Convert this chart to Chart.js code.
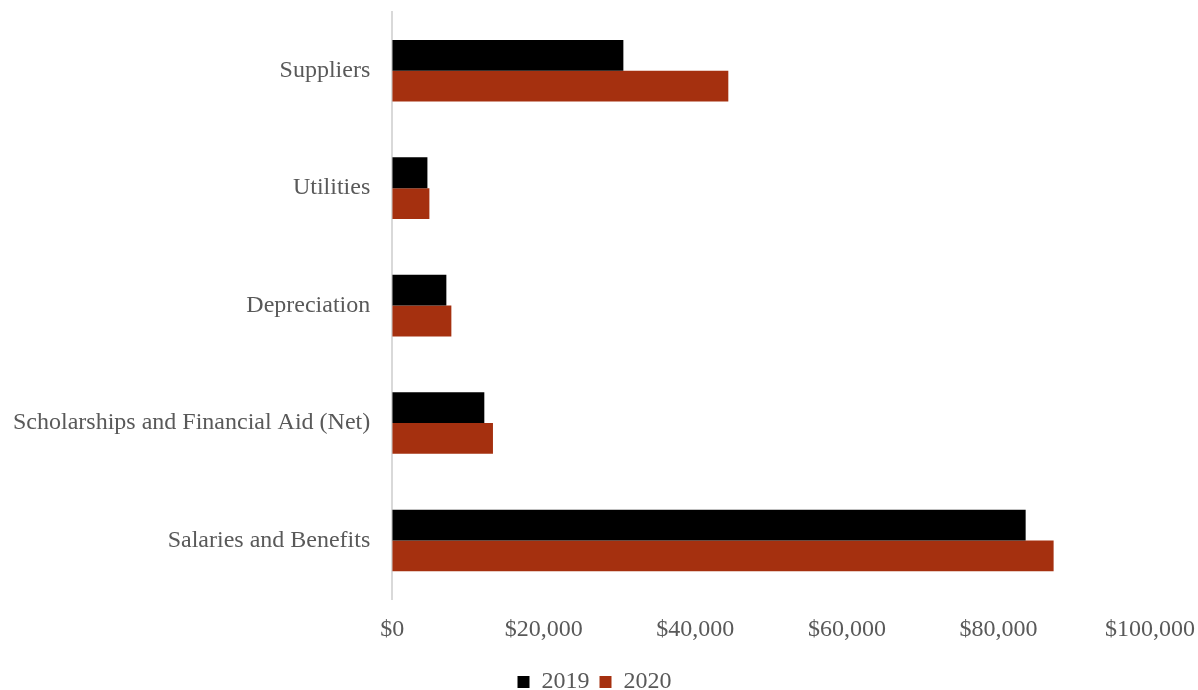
<!DOCTYPE html>
<html>
<head>
<meta charset="utf-8">
<script src="https://cdn.jsdelivr.net/npm/chart.js@4/dist/chart.umd.min.js"></script>
<style>
  body { margin: 0; background: #fff; }
  #wrap { width: 1198px; height: 690px; }
</style>
</head>
<body>
<div id="wrap"><canvas id="chart"></canvas></div>
<script>
// Danh mục chi phí
const categories = ["Suppliers", "Utilities", "Depreciation", "Scholarships and Financial Aid (Net)", "Salaries and Benefits"];
// Giá trị từng năm
const values2019 = [30500, 4640, 7140, 12150, 83590];
const values2020 = [44350, 4900, 7800, 13290, 87280];
const xTicks = [0, 20000, 40000, 60000, 80000, 100000];

const serif = "'Liberation Serif', 'Times New Roman', serif";
const textColor = "#595959";

const ctx = document.getElementById("chart").getContext("2d");
const chart = new Chart(ctx, {
  type: "bar",
  data: {
    labels: categories,
    datasets: [
      { label: "2019", data: values2019, backgroundColor: "#000000" },
      { label: "2020", data: values2020, backgroundColor: "#A5300F" },
    ],
  },
  options: {
    indexAxis: "y",
    responsive: true,
    maintainAspectRatio: false,
    animation: false,
    layout: { padding: { top: 12, left: -9, right: 0, bottom: -14 } },
    datasets: { bar: { barPercentage: 1, categoryPercentage: 0.525 } },
    plugins: {
      legend: {
        position: "bottom",
        labels: {
          boxWidth: 12, boxHeight: 12, padding: 10,
          color: textColor,
          font: { family: serif, size: 24 },
        },
      },
      tooltip: { enabled: false },
    },
    scales: {
      x: {
        min: 0, max: 100000,
        afterBuildTicks: (axis) => { axis.ticks = xTicks.map(v => ({ value: v })); },
        // khoảng trống bên phải cho nhãn $100,000
        afterFit: (axis) => { axis.paddingLeft = 0; axis.paddingRight = 48; },
        grid: { display: false, drawTicks: false },
        border: { display: false },
        ticks: {
          color: textColor, padding: 16,
          font: { family: serif, size: 24 },
          callback: (v) => "$" + Number(v).toLocaleString("en-US"),
        },
      },
      y: {
        afterFit: (axis) => { axis.paddingTop = 0; axis.paddingBottom = 0; },
        grid: { display: false, drawTicks: false },
        border: { display: true, color: "#d9d9d9", width: 2 },
        ticks: {
          color: textColor, padding: 22,
          font: { family: serif, size: 24 },
        },
      },
    },
  },
});
</script>
</body>
</html>
